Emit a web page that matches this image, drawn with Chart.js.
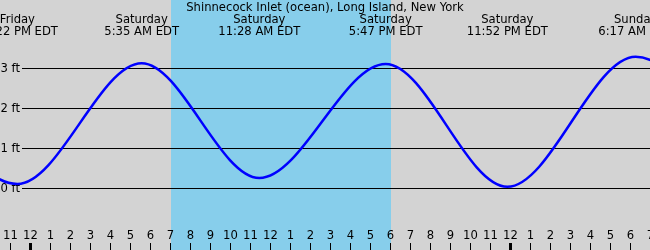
<!DOCTYPE html>
<html>
<head>
<meta charset="utf-8">
<script src="https://cdn.jsdelivr.net/npm/chart.js@4"></script>
<style>
  html, body { margin: 0; padding: 0; background: #d3d3d3; }
  #tideChart { display: block; }
</style>
</head>
<body>
<canvas id="tideChart" width="650" height="250"></canvas>
<script>
// tide times in hours after Saturday midnight, heights in ft
let tideHours = [-6.8, -0.63, 5.583, 11.467, 17.783, 23.867, 30.283, 36.7];
let tideHeights = [3.1, 0.1, 3.12, 0.25, 3.1, 0.03, 3.28, 0.1];

// labels above each high / low that is on screen
let eventHours = [-0.63, 5.583, 11.467, 17.783, 23.867, 30.283];
let eventDays = ['Friday', 'Saturday', 'Saturday', 'Saturday', 'Saturday', 'Sunday'];
let eventTimes = ['11:22 PM EDT', '5:35 AM EDT', '11:28 AM EDT', '5:47 PM EDT', '11:52 PM EDT', '6:17 AM EDT'];

let feetTicks = [0, 1, 2, 3];
let feetLabels = ['0 ft', '1 ft', '2 ft', '3 ft'];

let hourTicks = [-1, 0, 1, 2, 3, 4, 5, 6, 7, 8, 9, 10, 11, 12, 13, 14, 15, 16, 17, 18, 19, 20, 21, 22, 23, 24, 25, 26, 27, 28, 29, 30, 31];
let hourLabels = ['11', '12', '1', '2', '3', '4', '5', '6', '7', '8', '9', '10', '11', '12', '1', '2', '3', '4', '5', '6', '7', '8', '9', '10', '11', '12', '1', '2', '3', '4', '5', '6', '7'];
let midnights = [0, 24];

let sunrise = 7.05;
let sunset = 18.05;
let title = 'Shinnecock Inlet (ocean), Long Island, New York';

const FONT = '11.6px "DejaVu Sans", sans-serif';

const tideBackground = {
    id: 'tideBackground',
    beforeDatasetsDraw(chart) {
        let c = chart.ctx;
        let xs = chart.scales.x;
        let ys = chart.scales.y;
        let w = chart.width, h = chart.height;
        c.save();
        c.fillStyle = '#d3d3d3';
        c.fillRect(0, 0, w, h);
        let x1 = Math.round(xs.getPixelForValue(sunrise));
        let x2 = Math.round(xs.getPixelForValue(sunset));
        c.fillStyle = '#87ceeb';
        c.fillRect(x1, 0, x2 - x1, h);

        // feet lines + labels
        c.font = FONT;
        c.fillStyle = '#000';
        c.strokeStyle = '#000';
        c.lineWidth = 1;
        c.textBaseline = 'middle';
        c.textAlign = 'right';
        for (var i = 0; i < feetTicks.length; i++) {
            let y = Math.round(ys.getPixelForValue(feetTicks[i])) + 0.5;
            c.beginPath();
            c.moveTo(22, y);
            c.lineTo(w, y);
            c.stroke();
            c.fillText(feetLabels[i], 20, y);
        }

        // hour ticks along the bottom
        c.textAlign = 'center';
        for (var i = 0; i < hourTicks.length; i++) {
            let x = Math.round(xs.getPixelForValue(hourTicks[i]));
            c.fillText(hourLabels[i], x + 0.5, 236);
            let thick = midnights.indexOf(hourTicks[i]) >= 0;
            c.fillRect(thick ? x - 1 : x, 243, thick ? 3 : 1, 7);
        }

        // title and high/low labels
        c.fillText(title, w / 2, 8);
        for (var i = 0; i < eventHours.length; i++) {
            let x = xs.getPixelForValue(eventHours[i]);
            c.fillText(eventDays[i], x, 20);
            c.fillText(eventTimes[i], x, 32);
        }
        c.restore();
    }
};

let ctx = document.getElementById('tideChart').getContext('2d');
let tideChart = new Chart(ctx, {
    type: 'line',
    data: {
        datasets: [{
            data: tideHours.map((t, i) => ({ x: t, y: tideHeights[i] })),
            borderColor: '#0000ff',
            borderWidth: 2.5,
            pointRadius: 0,
            fill: false,
            cubicInterpolationMode: 'monotone'
        }]
    },
    options: {
        responsive: false,
        animation: false,
        layout: { padding: 0 },
        plugins: {
            legend: { display: false },
            tooltip: { enabled: false }
        },
        scales: {
            x: { type: 'linear', min: -1.5, max: 31, display: false },
            y: { min: -1.55, max: 4.7, display: false }
        }
    },
    plugins: [tideBackground]
});
</script>
</body>
</html>
